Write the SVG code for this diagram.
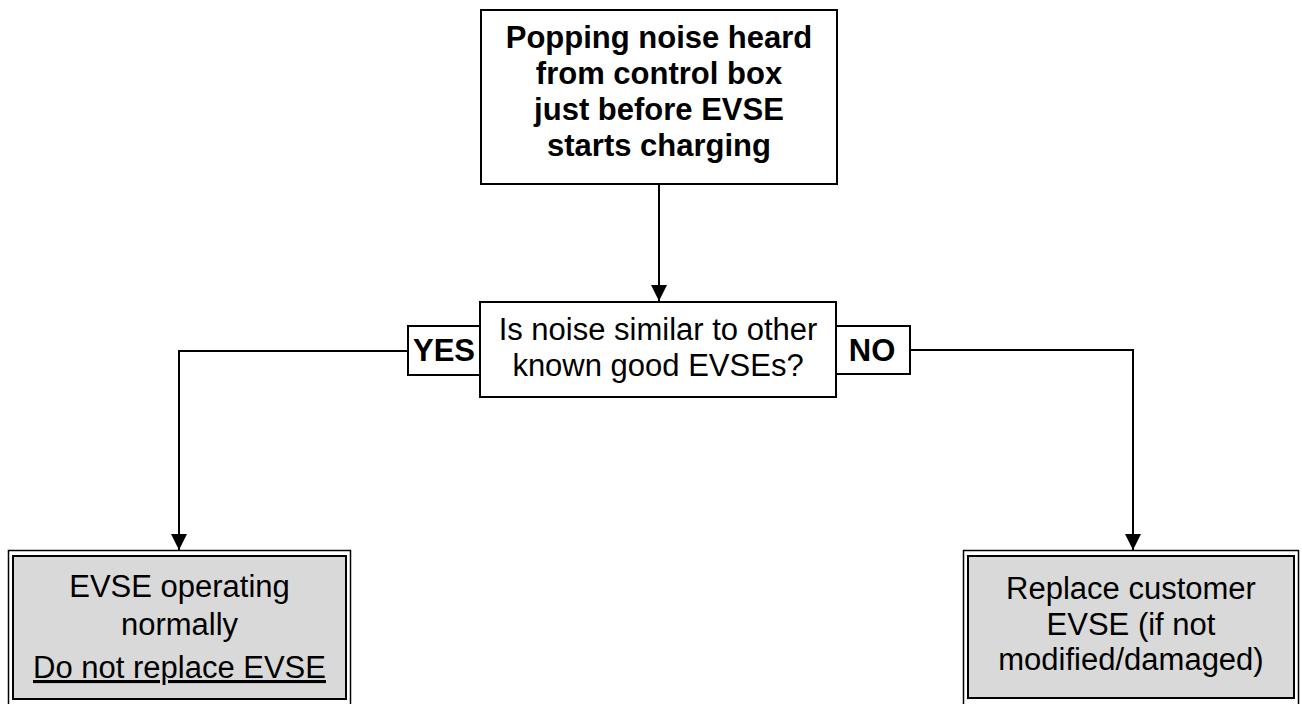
<svg xmlns="http://www.w3.org/2000/svg" width="1302" height="704" viewBox="0 0 1302 704">
<style>
.box{fill:#fff;stroke:#000;stroke-width:2}
.outer{fill:#fff;stroke:#000;stroke-width:1.5}
.inner{fill:#d9d9d9;stroke:#000;stroke-width:2}
.t{font-family:"Liberation Sans",Arial,sans-serif;font-size:31px;fill:#000;text-anchor:middle}
.b{font-weight:bold}
.conn{fill:none;stroke:#000;stroke-width:2}
</style>
<defs>
<marker id="arr" markerUnits="userSpaceOnUse" markerWidth="16" markerHeight="16" refX="16" refY="8" orient="auto">
<path d="M0,0 L16,8 L0,16 z" fill="#000"/>
</marker>
</defs>
<rect width="1302" height="704" fill="#fff"/>
<g id="connectors">
<path class="conn" d="M659,184 V301" marker-end="url(#arr)"/>
<path class="conn" d="M408,351 H179 V550" marker-end="url(#arr)"/>
<path class="conn" d="M910,350 H1133 V550" marker-end="url(#arr)"/>
</g>
<g id="start">
<rect class="box" x="481" y="10" width="356" height="174"/>
<text class="t b" x="659" y="48">Popping noise heard</text>
<text class="t b" x="659" y="84">from control box</text>
<text class="t b" x="659" y="120">just before EVSE</text>
<text class="t b" x="659" y="156">starts charging</text>
</g>
<g id="decision">
<rect class="box" x="480" y="302" width="356" height="95"/>
<text class="t" x="658" y="340">Is noise similar to other</text>
<text class="t" x="658" y="376">known good EVSEs?</text>
</g>
<g id="yes">
<rect class="box" x="408" y="326" width="72" height="49"/>
<text class="t b" x="444" y="361">YES</text>
</g>
<g id="no">
<rect class="box" x="836" y="326" width="74" height="48"/>
<text class="t b" x="872" y="361">NO</text>
</g>
<g id="normal">
<rect class="outer" x="8.5" y="550.5" width="342" height="155"/>
<rect class="inner" x="13" y="556" width="333" height="143"/>
<text class="t" x="179.5" y="597">EVSE operating</text>
<text class="t" x="179.5" y="635">normally</text>
<text class="t" x="179.5" y="678" text-decoration="underline">Do not replace EVSE</text>
</g>
<g id="replace">
<rect class="outer" x="963.5" y="550.5" width="335" height="155"/>
<rect class="inner" x="968" y="556" width="326" height="142"/>
<text class="t" x="1131" y="599">Replace customer</text>
<text class="t" x="1131" y="635">EVSE (if not</text>
<text class="t" x="1131" y="670">modified/damaged)</text>
</g>
</svg>
